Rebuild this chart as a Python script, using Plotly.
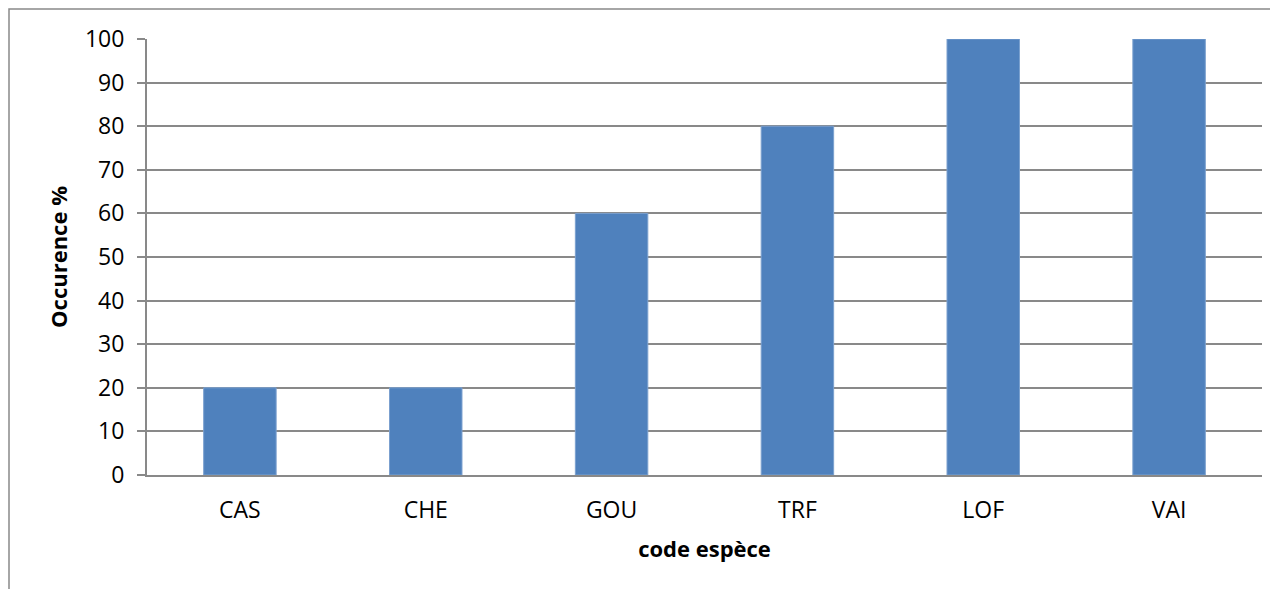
import plotly.graph_objects as go

categories = ["CAS", "CHE", "GOU", "TRF", "LOF", "VAI"]
occurence = [20, 20, 60, 80, 100, 100]
y_ticks = [0, 10, 20, 30, 40, 50, 60, 70, 80, 90, 100]

FONT = "'Open Sans', Lato, sans-serif"
GRAY = "#898989"

fig = go.Figure(
    go.Bar(
        x=categories,
        y=occurence,
        marker=dict(color="#4F81BD", line=dict(color="#7BA0CF", width=1)),
        width=0.39,
    )
)

fig.update_layout(
    width=1278,
    height=589,
    margin=dict(l=139, r=24, t=31, b=122),
    paper_bgcolor="white",
    plot_bgcolor="white",
    showlegend=False,
    font=dict(family=FONT, size=23, color="#000000"),
    shapes=[
        dict(
            type="rect", xref="paper", yref="paper",
            x0=(1 - 139) / 1115, x1=1.05, y0=-0.4, y1=(467 - 1) / 436,
            line=dict(color=GRAY, width=1.5), fillcolor="rgba(0,0,0,0)",
            layer="below",
        )
    ],
)

fig.update_xaxes(
    showline=True, linecolor=GRAY, linewidth=2,
    showgrid=False, ticks="",
    ticklabelstandoff=13,
    tickfont=dict(family=FONT, size=23),
    title=dict(text="<b>code espèce</b>", font=dict(family=FONT, size=22), standoff=18),
)

fig.update_yaxes(
    range=[0, 100], tickvals=y_ticks,
    showline=True, linecolor=GRAY, linewidth=2,
    showgrid=True, gridcolor=GRAY, gridwidth=1.5,
    ticks="outside", ticklen=8, tickcolor=GRAY, tickwidth=1.5,
    ticklabelstandoff=8,
    tickfont=dict(family=FONT, size=23),
    zeroline=False,
    title=dict(text="<b>Occurence %</b>", font=dict(family=FONT, size=22), standoff=11),
)

fig.write_html("out.html")
